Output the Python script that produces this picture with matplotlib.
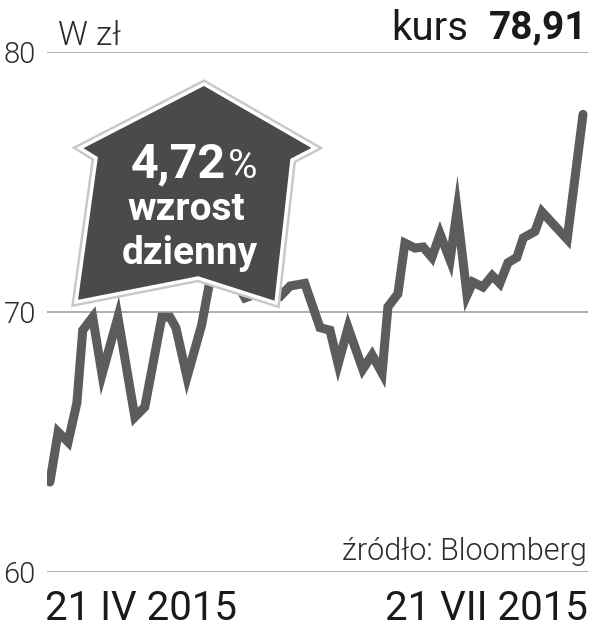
import matplotlib
matplotlib.use("Agg")
import matplotlib.pyplot as plt
from matplotlib.patches import Polygon
import matplotlib.patheffects as pe

# dni od 21 IV 2015 i kurs zamkniecia (zl)
days = [0, 1.4, 3.1, 4.6, 5.6, 7.3, 8.9, 11.6, 14.5, 16.2, 19.1, 20.5, 21.5,
        23.4, 25.9, 27.3, 30.4, 33.3, 36.2, 39.3, 41.0, 43.5, 46.1, 47.8,
        49.2, 50.9, 53.4, 55.0, 56.7, 57.7, 59.4, 60.6, 62.3, 63.7, 65.2,
        66.6, 68.3, 69.5, 71.2, 72.2, 73.9, 75.5, 76.8, 78.2, 79.7, 80.8,
        82.8, 84.0, 88.3, 91.0]
kurs = [63.46, 65.38, 65.0, 66.5, 69.3, 69.8, 67.6, 69.8, 65.96, 66.35,
        69.8, 69.8, 69.4, 67.5, 69.5, 71.2, 71.7, 70.54, 70.77, 70.6, 71.0,
        71.1, 69.4, 69.3, 68.0, 69.4, 67.8, 68.35, 67.65, 70.2, 70.7, 72.65,
        72.46, 72.5, 72.1, 73.0, 72.0, 73.9, 70.65, 71.15, 70.96, 71.4, 71.1,
        71.9, 72.1, 72.85, 73.1, 73.85, 72.8, 77.6]
y_ticks = [60, 70, 80]
date_labels = ["21 IV 2015", "21 VII 2015"]

W, H = 590, 640
LINE = "#5c5c5c"
TEXT = "#2b2b2b"
FONT = ["Roboto", "DejaVu Sans"]

fig = plt.figure(figsize=(W / 100, H / 100), dpi=100)
ax = fig.add_axes([47 / W, 1 - 572 / H, 541 / W, 520 / H])

for v in y_ticks:
    ax.axhline(v, color="#a8a8a8", linewidth=1.3, zorder=1)
ax.plot(days, kurs, color=LINE, linewidth=6.5, solid_joinstyle="miter",
        solid_capstyle="round", zorder=2)

ax.set_xlim(-0.5, 91.85)
ax.set_ylim(60, 80)
ax.set_xticks([])
ax.set_yticks(y_ticks)
ax.set_yticklabels([str(v) for v in y_ticks], family=FONT, fontsize=21,
                   fontweight=300, color=TEXT)
ax.tick_params(axis="y", length=0, pad=8)
for s in ax.spines.values():
    s.set_visible(False)


def px(x, y):
    return x / W, 1 - y / H


# strzalka z opisem wzrostu
arrow_pts = [(204, 84), (315, 148), (292, 160), (276, 303), (198, 278),
             (76, 302), (96, 158), (80, 148)]
arrow = Polygon([px(x, y) for x, y in arrow_pts], closed=True,
                transform=fig.transFigure, facecolor="#4a4a4a",
                edgecolor="white", linewidth=2.5, zorder=5)
arrow.set_path_effects([pe.Stroke(linewidth=6, foreground="#c8c8c8"),
                        pe.Normal()])
fig.patches.append(arrow)

fig.text(*px(226, 165), "4,72", ha="right", va="center", color="white",
         fontsize=35, fontweight="bold", family=FONT, zorder=6)
fig.text(*px(228, 167), "%", ha="left", va="center", color="white",
         fontsize=29, family=FONT, zorder=6)
fig.text(*px(186, 210), "wzrost", ha="center", va="center", color="white",
         fontsize=28, fontweight="bold", family=FONT, zorder=6)
fig.text(*px(190, 254), "dzienny", ha="center", va="center", color="white",
         fontsize=28, fontweight="bold", family=FONT, zorder=6)

# naglowki i podpisy
fig.text(*px(58, 36), "W zł", ha="left", va="center", color=TEXT,
         fontsize=24, fontweight=300, family=FONT)
fig.text(*px(468, 28), "kurs", ha="right", va="center", color="#1a1a1a",
         fontsize=29, family=FONT)
fig.text(*px(588, 28), "78,91", ha="right", va="center", color="#1a1a1a",
         fontsize=28, fontweight="bold", family=FONT)
fig.text(*px(587, 552), "źródło: Bloomberg", ha="right", va="center",
         color=TEXT, fontsize=22, fontweight=300, family=FONT)
fig.text(*px(45, 609), date_labels[0], ha="left", va="center",
         color="#1a1a1a", fontsize=29, family=FONT)
fig.text(*px(588, 609), date_labels[1], ha="right", va="center",
         color="#1a1a1a", fontsize=29, family=FONT)

fig.savefig("out.png", dpi=100, facecolor="white")
